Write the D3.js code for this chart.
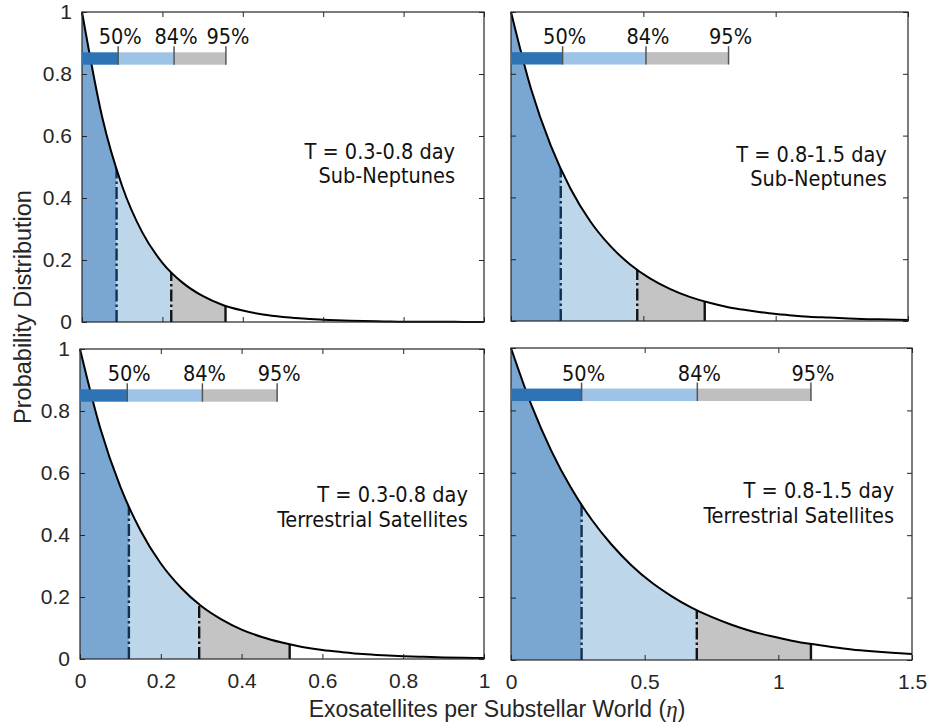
<!DOCTYPE html>
<html>
<head>
<meta charset="utf-8">
<script src="https://cdn.jsdelivr.net/npm/d3@7"></script>
<style>
  html, body { margin: 0; padding: 0; background: #fff; }
</style>
</head>
<body>
<svg id="fig" width="929" height="727"></svg>
<script>
// ---- data -------------------------------------------------------------
// η sample positions for the two x ranges
const etaNarrow = [0, 0.05, 0.1, 0.15, 0.2, 0.25, 0.3, 0.35, 0.4, 0.45, 0.5,
                   0.55, 0.6, 0.65, 0.7, 0.75, 0.8, 0.85, 0.9, 0.95, 1];
const etaWide = [0, 0.075, 0.15, 0.225, 0.3, 0.375, 0.45, 0.525, 0.6, 0.675, 0.75,
                 0.825, 0.9, 0.975, 1.05, 1.125, 1.2, 1.275, 1.35, 1.425, 1.5];

// normalised probability distribution of η for each case
const densitySubNepShort = [1, 0.662, 0.438, 0.289, 0.191, 0.127, 0.084, 0.055, 0.037, 0.024, 0.016,
                            0.011, 0.007, 0.005, 0.003, 0.002, 0.001, 0.001, 0.001, 0, 0];
const densitySubNepLong = [1, 0.753, 0.568, 0.428, 0.322, 0.243, 0.183, 0.138, 0.104, 0.078, 0.059,
                           0.044, 0.034, 0.025, 0.019, 0.014, 0.011, 0.008, 0.006, 0.005, 0.003];
const densityTerrShort = [1, 0.745, 0.555, 0.414, 0.308, 0.230, 0.171, 0.128, 0.095, 0.071, 0.053,
                          0.039, 0.029, 0.022, 0.016, 0.012, 0.009, 0.007, 0.005, 0.004, 0.003];
const densityTerrLong = [1, 0.820, 0.672, 0.551, 0.452, 0.371, 0.304, 0.249, 0.205, 0.168, 0.138,
                         0.113, 0.092, 0.076, 0.062, 0.051, 0.042, 0.034, 0.028, 0.023, 0.019];

// credible-level boundaries (50 %, 84 %, 95 %) of the shaded regions
const cutsSubNepShort = [0.086, 0.222, 0.357];
const cutsSubNepLong  = [0.188, 0.477, 0.732];
const cutsTerrShort   = [0.121, 0.295, 0.519];
const cutsTerrLong    = [0.264, 0.695, 1.122];

// same levels as marked on the summary bar
const barSubNepShort = [0.090, 0.229, 0.358];
const barSubNepLong  = [0.195, 0.510, 0.822];
const barTerrShort   = [0.117, 0.303, 0.488];
const barTerrLong    = [0.264, 0.697, 1.122];

const levelLabels = ["50%", "84%", "95%"];

const periodLabels = ["T = 0.3-0.8 day", "T = 0.8-1.5 day", "T = 0.3-0.8 day", "T = 0.8-1.5 day"];
const classLabels  = ["Sub-Neptunes", "Sub-Neptunes", "Terrestrial Satellites", "Terrestrial Satellites"];

const xTicksNarrow = [0, 0.2, 0.4, 0.6, 0.8, 1];
const xTickLabelsNarrow = ["0", "0.2", "0.4", "0.6", "0.8", "1"];
const xTicksWide = [0, 0.5, 1, 1.5];
const xTickLabelsWide = ["0", "0.5", "1", "1.5"];
const yTicks = [0, 0.2, 0.4, 0.6, 0.8, 1];
const yTickLabels = ["0", "0.2", "0.4", "0.6", "0.8", "1"];

const xAxisTitle = "Exosatellites per Substellar World (";
const xAxisSymbol = "η";
const yAxisTitle = "Probability Distribution";

// ---- panels -------------------------------------------------------------
const panels = [
  { eta: etaNarrow, density: densitySubNepShort, cuts: cutsSubNepShort, bar: barSubNepShort,
    xMax: 1, ticks: xTicksNarrow, tickLabels: xTickLabelsNarrow, note: [0.928, 0.526] },
  { eta: etaWide, density: densitySubNepLong, cuts: cutsSubNepLong, bar: barSubNepLong,
    xMax: 1.5, ticks: xTicksWide, tickLabels: xTickLabelsWide, note: [1.42, 0.515] },
  { eta: etaNarrow, density: densityTerrShort, cuts: cutsTerrShort, bar: barTerrShort,
    xMax: 1, ticks: xTicksNarrow, tickLabels: xTickLabelsNarrow, note: [0.96, 0.506] },
  { eta: etaWide, density: densityTerrLong, cuts: cutsTerrLong, bar: barTerrLong,
    xMax: 1.5, ticks: xTicksWide, tickLabels: xTickLabelsWide, note: [1.433, 0.519] }
];
panels.forEach((p, i) => { p.period = periodLabels[i]; p.kind = classLabels[i]; });

// axes rectangles in pixels
const frames = [
  { l: 82,  r: 484, t: 12,  b: 322 },
  { l: 511, r: 908, t: 12,  b: 321 },
  { l: 80,  r: 484, t: 349, b: 659 },
  { l: 511, r: 912, t: 348, b: 660 }
];

// ---- styles -------------------------------------------------------------
const axisColor = "#262626";
const tickFont = '"Liberation Sans", Arial, Helvetica, sans-serif';
const noteFont = '"DejaVu Sans Condensed", "DejaVu Sans", Tahoma, sans-serif';
const shadeColors = ["#7aa7d1", "#bed6ea", "#c4c4c4"];
const barColors = ["#2e74b5", "#9dc3e6", "#bfbfbf"];

const svg = d3.select("#fig");

panels.forEach((p, i) => {
  const f = frames[i];
  const showX = i >= 2;
  const showY = i % 2 === 0;
  const x = d3.scaleLinear().domain([0, p.xMax]).range([f.l, f.r]);
  const y = d3.scaleLinear().domain([0, 1]).range([f.b, f.t]);
  const g = svg.append("g");

  const pts = p.eta.map((e, k) => [e, p.density[k]]);
  const area = d3.area().x(d => x(d[0])).y0(y(0)).y1(d => y(d[1])).curve(d3.curveMonotoneX);
  const line = d3.line().x(d => x(d[0])).y(d => y(d[1])).curve(d3.curveMonotoneX);

  const clipId = "under-" + i;
  g.append("clipPath").attr("id", clipId).append("path").attr("d", area(pts));

  // shaded credible regions, clipped to the area under the curve
  const shaded = g.append("g").attr("clip-path", `url(#${clipId})`);
  const bounds = [0, ...p.cuts];
  shadeColors.forEach((c, k) => {
    shaded.append("rect")
      .attr("x", x(bounds[k]))
      .attr("width", x(bounds[k + 1]) - x(bounds[k]))
      .attr("y", y(1))
      .attr("height", y(0) - y(1))
      .attr("fill", c);
  });
  p.cuts.forEach((q, k) => {
    shaded.append("line")
      .attr("x1", x(q)).attr("x2", x(q))
      .attr("y1", y(0)).attr("y2", y(1))
      .attr("stroke", k === 0 ? "#112f52" : "#101418")
      .attr("stroke-width", 2.4)
      .attr("stroke-dasharray", k < 2 ? "12,3,2.5,3" : null);
  });

  // distribution curve
  g.append("path").attr("d", line(pts))
    .attr("fill", "none").attr("stroke", "#000").attr("stroke-width", 2);

  // axes with inward ticks on all four sides
  const styleAxis = sel => {
    sel.select(".domain").remove();
    sel.selectAll(".tick line").attr("stroke", axisColor).attr("stroke-width", 1);
    sel.selectAll(".tick text").attr("fill", axisColor);
    sel.attr("font-family", tickFont).attr("font-size", 21);
  };
  g.append("g").attr("transform", `translate(0,${f.b})`)
    .call(d3.axisBottom(x).tickValues(p.ticks).tickSize(-5).tickPadding(14)
      .tickFormat((d, k) => showX ? p.tickLabels[k] : ""))
    .call(styleAxis);
  g.append("g").attr("transform", `translate(0,${f.t})`)
    .call(d3.axisTop(x).tickValues(p.ticks).tickSize(-5).tickFormat(() => ""))
    .call(styleAxis);
  g.append("g").attr("transform", `translate(${f.l},0)`)
    .call(d3.axisLeft(y).tickValues(yTicks).tickSize(-5).tickPadding(10)
      .tickFormat((d, k) => showY ? yTickLabels[k] : ""))
    .call(styleAxis);
  g.append("g").attr("transform", `translate(${f.r},0)`)
    .call(d3.axisRight(y).tickValues(yTicks).tickSize(-5).tickFormat(() => ""))
    .call(styleAxis);

  g.append("rect")
    .attr("x", f.l).attr("y", f.t)
    .attr("width", f.r - f.l).attr("height", f.b - f.t)
    .attr("fill", "none").attr("stroke", axisColor).attr("stroke-width", 1.2);

  // summary bar of the credible levels
  const barTop = y(0.87), barBot = y(0.83);
  const barBounds = [0, ...p.bar];
  barColors.forEach((c, k) => {
    g.append("rect")
      .attr("x", x(barBounds[k]))
      .attr("width", x(barBounds[k + 1]) - x(barBounds[k]))
      .attr("y", barTop).attr("height", barBot - barTop)
      .attr("fill", c);
  });
  p.bar.forEach((q, k) => {
    g.append("line")
      .attr("x1", x(q)).attr("x2", x(q))
      .attr("y1", barTop - 6).attr("y2", barBot)
      .attr("stroke", "#555").attr("stroke-width", 1.5);
    g.append("text")
      .attr("x", x(q) + 2).attr("y", barTop - 8)
      .attr("text-anchor", "middle")
      .attr("font-family", noteFont).attr("font-size", 21.5)
      .attr("fill", "#111")
      .text(levelLabels[k]);
  });

  // case annotation
  const note = g.append("text")
    .attr("text-anchor", "end")
    .attr("font-family", noteFont).attr("font-size", 21.5)
    .attr("fill", "#111");
  note.append("tspan").attr("x", x(p.note[0])).attr("y", y(p.note[1])).text(p.period);
  note.append("tspan").attr("x", x(p.note[0])).attr("dy", 24.5).text(p.kind);
});

// shared axis titles
const xt = svg.append("text")
  .attr("x", 497).attr("y", 717)
  .attr("text-anchor", "middle")
  .attr("font-family", tickFont).attr("font-size", 23)
  .attr("fill", axisColor);
xt.append("tspan").text(xAxisTitle);
xt.append("tspan").attr("font-family", '"Liberation Serif", "DejaVu Serif", serif')
  .attr("font-style", "italic").text(xAxisSymbol);
xt.append("tspan").text(")");

svg.append("text")
  .attr("transform", "translate(31,307) rotate(-90)")
  .attr("text-anchor", "middle")
  .attr("font-family", tickFont).attr("font-size", 23.5)
  .attr("fill", axisColor)
  .text(yAxisTitle);
</script>
</body>
</html>
